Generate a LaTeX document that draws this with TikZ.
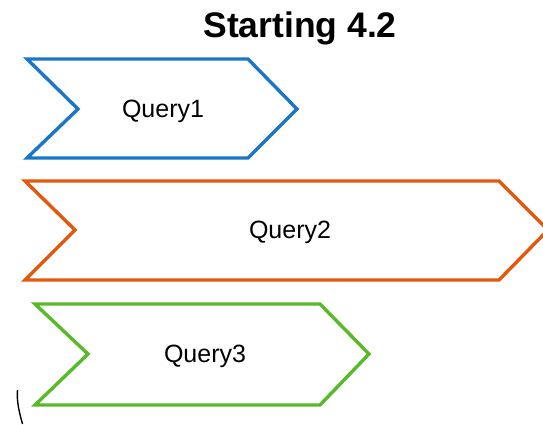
\documentclass[tikz,border=0pt]{standalone}
\usepackage{fontspec}
\setmainfont{Liberation Sans}
\definecolor{qblue}{RGB}{28,118,200}
\definecolor{qorange}{RGB}{228,88,12}
\definecolor{qgreen}{RGB}{88,186,40}
\begin{document}
\begin{tikzpicture}[x=1pt,y=-1pt,
  chev/.style={line width=3.4pt, line join=miter, fill=white},
  qlabel/.style={anchor=base, inner sep=0pt, font=\fontsize{25}{30}\selectfont},
  titletext/.style={anchor=base, inner sep=0pt, font=\fontsize{35.5}{42}\selectfont\bfseries}]
\useasboundingbox (0,0) rectangle (543,424);
\begin{scope}
\clip (0,0) rectangle (543,424);
\node[titletext] (title) at (300,37) {Starting 4.2};
% Query1 chevron
\draw[chev, draw=qblue] (27,59) -- (248,59) -- (297,109) -- (248,158) -- (27,158) -- (78,109) -- cycle;
\node[qlabel] (q1) at (163,117) {Query1};
% Query2 chevron
\draw[chev, draw=qorange] (25,181) -- (499,181) -- (548,230) -- (499,280) -- (25,280) -- (75,230) -- cycle;
\node[qlabel] (q2) at (290,238) {Query2};
% Query3 chevron
\draw[chev, draw=qgreen] (35,304) -- (320,304) -- (369,354) -- (320,405) -- (35,405) -- (88,354) -- cycle;
\node[qlabel] (q3) at (205,362) {Query3};
% stray stroke
\draw[line width=1.4pt, black] (17.5,390) .. controls (16.5,402) and (19.5,413) .. (22.5,424);
\end{scope}
\end{tikzpicture}
\end{document}
